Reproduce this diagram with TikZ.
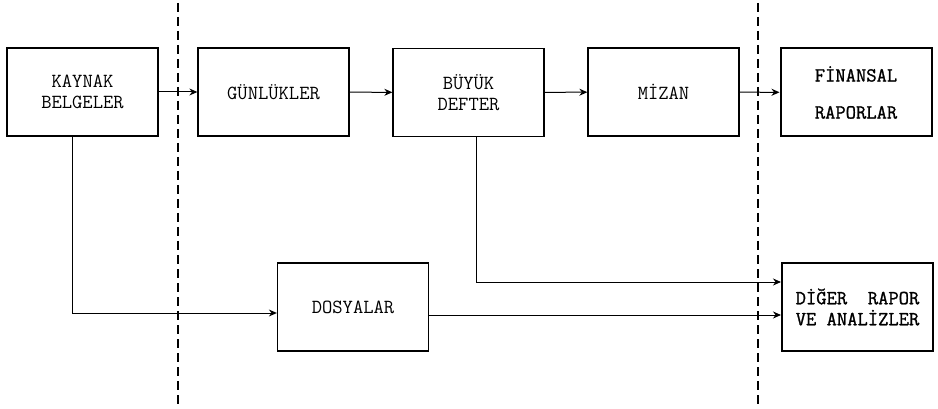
\documentclass[tikz,border=0pt]{standalone}
\usepackage{fontspec}
\newfontfamily\yazi{Latin Modern Mono}
\newfontfamily\kalinyazi[FakeBold=1.2]{Latin Modern Mono}
\usetikzlibrary{arrows.meta}
\tikzset{kutu/.style={draw,line width=1.3pt,minimum width=151pt,minimum height=88pt,inner sep=0pt,align=center,font=\yazi\fontsize{20}{21}\selectfont},
kalin/.style={kutu,line width=2pt,font=\kalinyazi\fontsize{20}{21}\selectfont},
ok/.style={line width=1pt,-{Stealth[length=8pt,width=7pt]}},
sinir/.style={line width=2pt,dash pattern=on 9pt off 5pt}}
\begin{document}
\begin{tikzpicture}[x=1pt,y=-1pt]
\useasboundingbox (0,0) rectangle (938,409);
% ust sira
\node[kutu] (kaynak) at (82.5,92) {KAYNAK\\BELGELER};
\node[kutu] (gunluk) at (273.5,92) {GÜNLÜKLER};
\node[kutu] (buyuk) at (468.5,92.5) {BÜYÜK\\DEFTER};
\node[kutu] (mizan) at (663.5,92) {MİZAN};
\node[kalin] (finans) at (856,92.5) {FİNANSAL\\[16pt]RAPORLAR};
% alt sira
\node[kutu] (dosya) at (353,307) {DOSYALAR};
\node[kalin,align=left] (diger) at (857.5,307) {DİĞER\ \ RAPOR\\VE ANALİZLER};
% sinirlar
\draw[sinir] (178,3) -- (178,405);
\draw[sinir] (758,3) -- (758,405);
% oklar
\draw[ok] (kaynak) -- (gunluk);
\draw[ok] (gunluk) -- (buyuk);
\draw[ok] (buyuk) -- (mizan);
\draw[ok] (mizan) -- (finans);
\draw[ok] ([xshift=-10.5pt]kaynak.south) |- ([yshift=-6pt]dosya.west);
\draw[ok] ([xshift=8pt]buyuk.south) |- ([yshift=25pt]diger.west);
\draw[ok] ([yshift=-8pt]dosya.east) -- ([yshift=-8pt]diger.west);
\end{tikzpicture}
\end{document}
